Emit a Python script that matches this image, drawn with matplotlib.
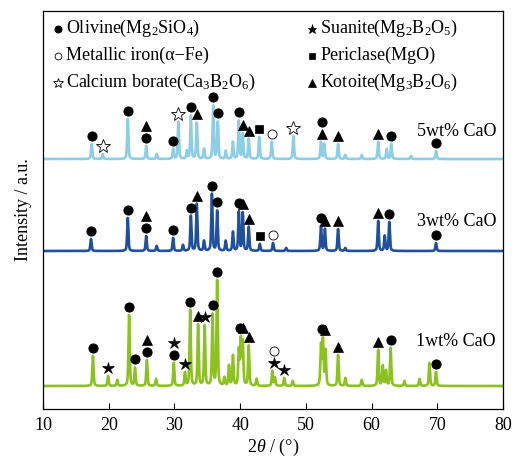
import numpy as np
import matplotlib
matplotlib.use("Agg")
import matplotlib.pyplot as plt

plt.rcParams['font.family'] = ['Liberation Serif', 'DejaVu Serif']
plt.rcParams['mathtext.fontset'] = 'custom'
plt.rcParams['mathtext.rm'] = 'Liberation Serif'
plt.rcParams['mathtext.it'] = 'Liberation Serif:italic'

# ---------------- data (peak positions 2theta, peak heights a.u.) ----------------
samples = ["5wt% CaO", "3wt% CaO", "1wt% CaO"]
colors = ["#8ecde6", "#1f4f9e", "#8cc21e"]
offsets = [250, 158, 23]

peaks_5 = [17.4, 19.1, 22.9, 25.7, 27.3, 29.8, 30.6, 31.9, 32.5, 33.4, 34.5, 35.9, 36.6,
           37.8, 38.9, 39.8, 40.4, 41.3, 42.9, 44.8, 48.1, 52.3, 52.8, 54.9, 56.0, 58.5,
           61.0, 62.3, 63.0, 66.0, 69.8]
heights_5 = [15, 5, 40, 13, 5, 10, 37, 8, 43, 36, 10, 53, 37,
             8, 17, 38, 25, 20, 22, 17, 23, 17, 15, 15, 4, 4,
             17, 10, 15, 3, 8]

peaks_3 = [17.3, 22.9, 25.7, 27.3, 29.8, 31.3, 32.5, 33.4, 34.5, 35.7, 36.5, 37.8, 38.9,
           39.8, 40.4, 41.3, 43.0, 45.0, 47.0, 52.3, 52.9, 54.9, 56.0, 61.0, 62.0, 62.7, 69.8]
heights_3 = [12, 33, 15, 5, 13, 6, 35, 47, 10, 57, 40, 10, 19,
             39, 38, 24, 7, 8, 3, 25, 22, 22, 3, 30, 15, 29, 8]

peaks_1 = [17.6, 19.9, 21.3, 23.1, 24.0, 25.8, 27.2, 29.9, 31.6, 32.4, 33.6, 34.6, 35.8,
           36.5, 37.6, 38.3, 38.9, 39.8, 40.1, 40.4, 41.3, 42.5, 44.9, 45.3, 46.7, 48.0,
           52.3, 52.6, 53.0, 54.9, 56.0, 58.5, 61.0, 61.7, 62.2, 62.9, 65.0, 67.3, 68.8, 69.8]
heights_1 = [30, 10, 6, 71, 18, 26, 7, 23, 13, 76, 61, 60, 71,
             105, 8, 20, 30, 35, 45, 43, 40, 7, 15, 8, 8, 5,
             40, 45, 35, 31, 8, 6, 36, 20, 15, 38, 5, 7, 23, 14]

# phase markers: (2theta, phase); same 2theta -> stacked upward in listed order
marks_5 = [(17.4, "ol"), (19.1, "cb"), (22.9, "ol"), (25.7, "ol"), (25.7, "ko"), (29.8, "ol"),
           (30.6, "cb"), (32.5, "ol"), (33.4, "ko"), (35.9, "ol"), (36.6, "ol"), (39.8, "ol"),
           (40.4, "ko"), (41.3, "ko"), (42.9, "pe"), (44.8, "fe"), (48.1, "cb"),
           (52.5, "ko"), (52.5, "ol"), (54.9, "ko"), (61.0, "ko"), (63.0, "ol"), (69.8, "ol")]
marks_3 = [(17.3, "ol"), (22.9, "ol"), (25.7, "ol"), (25.7, "ko"), (29.8, "ol"), (32.5, "ol"),
           (33.4, "ko"), (35.7, "ol"), (36.5, "ol"), (39.8, "ol"), (40.4, "ko"), (41.3, "ko"),
           (43.0, "pe"), (45.0, "fe"), (52.3, "ol"), (52.9, "ko"), (54.9, "ko"), (61.0, "ko"),
           (62.7, "ol"), (69.8, "ol")]
marks_1 = [(17.6, "ol"), (19.9, "su"), (23.1, "ol"), (24.0, "ol"), (25.8, "ol"), (25.8, "ko"),
           (29.9, "ol"), (29.9, "su"), (31.6, "su"), (32.4, "ol"), (33.6, "ko"), (34.6, "su"),
           (35.8, "ol"), (36.5, "ol"), (40.0, "ol"), (40.4, "ko"), (41.3, "ko"),
           (45.1, "su"), (45.1, "fe"), (46.7, "su"), (52.5, "ol"), (52.9, "ko"), (54.9, "ko"),
           (61.0, "ko"), (62.9, "ol"), (69.8, "ol")]

phase_names = {
    "ol": r"Olivine(Mg$_2$SiO$_4$)",
    "fe": "Metallic iron(α−Fe)",
    "cb": r"Calcium borate(Ca$_3$B$_2$O$_6$)",
    "su": r"Suanite(Mg$_2$B$_2$O$_5$)",
    "pe": "Periclase(MgO)",
    "ko": r"Kotoite(Mg$_3$B$_2$O$_6$)",
}
legend_order = [["ol", "fe", "cb"], ["su", "pe", "ko"]]

# ---------------- styles ----------------
mstyle = {
    "ol": dict(marker="o", ms=6.5, mfc="black", mec="black", mew=0.8),
    "fe": dict(marker="o", ms=6.5, mfc="white", mec="black", mew=0.6),
    "cb": dict(marker="*", ms=10, mfc="white", mec="black", mew=0.6),
    "su": dict(marker="*", ms=9, mfc="black", mec="black", mew=0.5),
    "pe": dict(marker="s", ms=6, mfc="black", mec="black", mew=0.5),
    "ko": dict(marker="^", ms=7.5, mfc="black", mec="black", mew=0.5),
}

W, H = 516, 458
fig = plt.figure(figsize=(W / 100, H / 100), dpi=100)
ax = fig.add_axes([43 / W, (H - 409) / H, 460 / W, 398 / H])

x = np.linspace(10, 80, 5000)


def spectrum(pos, hts, base):
    y = np.full_like(x, float(base))
    w = 0.11
    for p, h in zip(pos, hts):
        lor = 1.0 / (1.0 + ((x - p) / w) ** 2)
        gau = np.exp(-np.log(2) * ((x - p) / w) ** 2)
        y += h * (0.5 * lor + 0.5 * gau)
    return y


all_peaks = [(peaks_5, heights_5), (peaks_3, heights_3), (peaks_1, heights_1)]
all_marks = [marks_5, marks_3, marks_1]
label_y = [277, 188, 67]

for (pos, hts), col, off, marks, name, ly in zip(all_peaks, colors, offsets, all_marks, samples, label_y):
    y = spectrum(pos, hts, off)
    ax.plot(x, y, color=col, lw=1.9, zorder=2, solid_joinstyle="round")
    seen = {}
    for t, ph in marks:
        k = seen.get(t, 0)
        seen[t] = k + 1
        win = (x > t - 0.3) & (x < t + 0.3)
        top = y[win].max()
        ax.plot([t], [top + 8 + 12 * k], linestyle="none", zorder=4, **mstyle[ph])
    ax.text(0.985, ly, name, transform=ax.get_yaxis_transform(), ha="right", va="center",
            fontsize=13)

# legend (manual)
col_x = [0.033, 0.585]
row_y = [0.955, 0.888, 0.820]
for c, keys in enumerate(legend_order):
    for r, k in enumerate(keys):
        st = dict(mstyle[k])
        st["ms"] = st["ms"] * 0.75
        ax.plot([col_x[c]], [row_y[r]], transform=ax.transAxes, linestyle="none", **st)
        ax.text(col_x[c] + 0.018, row_y[r], phase_names[k], transform=ax.transAxes,
                ha="left", va="center", fontsize=13)

ax.set_xlim(10, 80)
ax.set_ylim(0, 398)
ax.set_xticks(np.arange(10, 81, 10))
ax.tick_params(axis="x", direction="in", length=4, width=0.8, labelsize=13, pad=6, top=False)
ax.set_yticks([])
for s in ax.spines.values():
    s.set_linewidth(0.9)
ax.set_xlabel(r"$\mathit{2\theta}$ / (°)", fontsize=13, labelpad=2)
ax.set_ylabel("Intensity / a.u.", fontsize=13, labelpad=8)

fig.savefig("out.png", dpi=100)
